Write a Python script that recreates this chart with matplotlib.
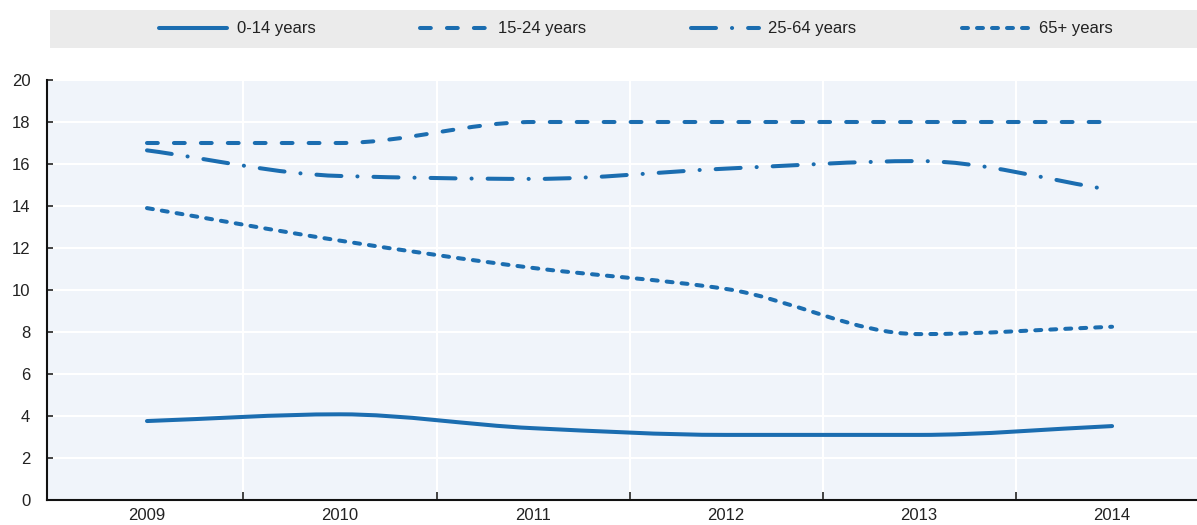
import numpy as np
import matplotlib
matplotlib.use("Agg")
import matplotlib.pyplot as plt
from matplotlib.path import Path
from matplotlib.patches import PathPatch, Rectangle
from matplotlib.lines import Line2D

plt.rcParams['font.family'] = ['Liberation Sans', 'DejaVu Sans']
plt.rcParams['lines.scale_dashes'] = False

years = ["2009", "2010", "2011", "2012", "2013", "2014"]
age_0_14 = [3.76, 4.08, 3.42, 3.10, 3.10, 3.52]
age_15_24 = [17.0, 17.0, 18.0, 18.0, 18.0, 18.0]
age_25_64 = [16.65, 15.43, 15.29, 15.78, 16.14, 14.76]
age_65p = [13.9, 12.35, 11.05, 10.05, 7.9, 8.25]
labels = ["0-14 years", "15-24 years", "25-64 years", "65+ years"]

COLOR = "#1b6db0"
LW = 2.9
styles = [
    "solid",
    (0, (7.8, 11.6)),
    (0, (18.0, 11.5, 0.1, 11.5)),
    (0, (4.3, 6.5)),
]


def smooth_path(xs, ys):
    xs = np.asarray(xs, float)
    ys = np.asarray(ys, float)
    n = len(xs)
    h = np.diff(xs)
    d = np.diff(ys) / h
    m = np.zeros(n)
    m[0] = d[0]
    m[-1] = d[-1]
    for k in range(1, n - 1):
        if d[k - 1] * d[k] <= 0:
            m[k] = 0.0
        else:
            m[k] = 2.0 / (1.0 / d[k - 1] + 1.0 / d[k])
    verts = [(xs[0], ys[0])]
    codes = [Path.MOVETO]
    for i in range(n - 1):
        hh = h[i]
        verts += [(xs[i] + hh / 3, ys[i] + m[i] * hh / 3),
                  (xs[i + 1] - hh / 3, ys[i + 1] - m[i + 1] * hh / 3),
                  (xs[i + 1], ys[i + 1])]
        codes += [Path.CURVE4] * 3
    return Path(verts, codes)


fig = plt.figure(figsize=(11.97, 5.25), dpi=100)
ax = fig.add_axes([47 / 1197, 25 / 525, 1 - 47 / 1197, 420 / 525])
ax.set_facecolor("#f0f4fa")

x = np.arange(len(years))
series = [age_0_14, age_15_24, age_25_64, age_65p]
handles = []
for vals, ls, lab in zip(series, styles, labels):
    p = smooth_path(x, vals)
    patch = PathPatch(p, fill=False, edgecolor=COLOR, linewidth=LW,
                      linestyle=ls, capstyle="round", joinstyle="round", zorder=3)
    ax.add_patch(patch)
    handles.append(Line2D([], [], color=COLOR, linewidth=LW, linestyle=ls,
                          dash_capstyle="round", solid_capstyle="round", label=lab))

ax.set_xlim(-0.518, 5.44)
ax.set_ylim(0, 20)
ax.set_yticks(np.arange(0, 21, 2))
ax.set_xticks(x)
ax.set_xticklabels(years)
ax.set_xticks(x[:-1] + 0.5, minor=True)
ax.tick_params(axis="x", which="major", length=0, labelsize=12, pad=6, colors="#222222")
ax.tick_params(axis="x", which="minor", length=6, direction="in", width=1.2, color="#222222")
ax.tick_params(axis="y", length=4, width=1.2, direction="in", labelsize=12, pad=12,
               colors="#222222")
ax.grid(axis="y", color="white", linewidth=1.5)
ax.grid(axis="x", which="minor", color="white", linewidth=1.5)
ax.set_axisbelow(True)
for s in ["top", "right"]:
    ax.spines[s].set_visible(False)
for s in ["left", "bottom"]:
    ax.spines[s].set_color("#111111")
    ax.spines[s].set_linewidth(1.5)

fig.patches.append(Rectangle((50 / 1197, 1 - 48 / 525), 1 - 50 / 1197, 38 / 525,
                             transform=fig.transFigure, facecolor="#ebebeb",
                             edgecolor="none", zorder=0))
fig.legend(handles=handles, loc="center", bbox_to_anchor=(636 / 1197, 1 - 29 / 525),
           ncol=4, frameon=False, fontsize=12, handlelength=4.1, handletextpad=0.55,
           columnspacing=6.3, labelcolor="#222222")

fig.savefig("out.png", dpi=100)
